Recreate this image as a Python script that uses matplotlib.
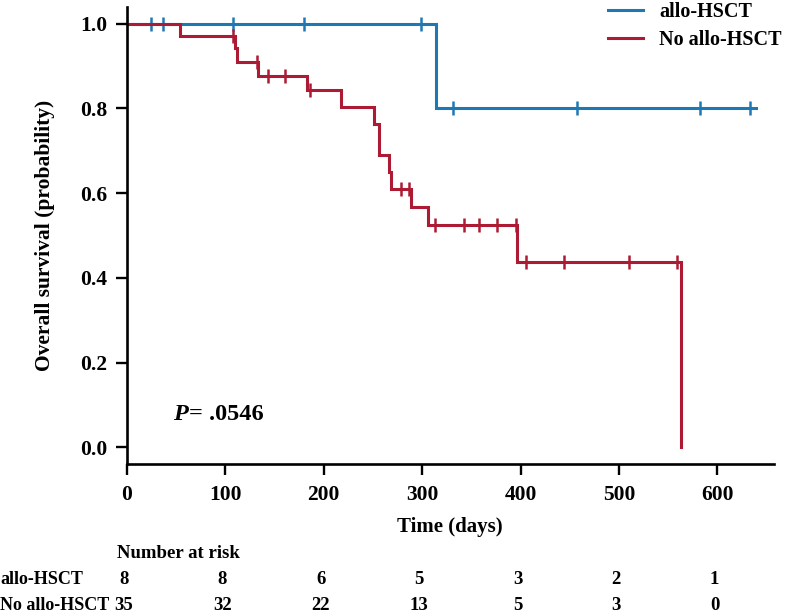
import numpy as np
import matplotlib
matplotlib.use("Agg")
import matplotlib.pyplot as plt
from matplotlib.transforms import blended_transform_factory

# Kaplan-Meier steps
groups = ["allo-HSCT", "No allo-HSCT"]
colors = ["#1f78b4", "#ad1a33"]

hsct_event_t = [314.6]
hsct_surv = [0.80]
hsct_end = 638.8
hsct_censor = [24.6, 36.4, 107.5, 180, 298.5, 330.9, 457.4, 582.7, 632.7]

no_event_t = [54.6, 110, 112, 133.5, 183.5, 217.5, 251.3, 256.4, 265.9, 268,
              288.5, 305.5, 396.8, 562.6]
no_surv = [0.970, 0.943, 0.909, 0.876, 0.843, 0.803, 0.763, 0.689, 0.649, 0.611,
           0.567, 0.524, 0.437, 0.0]
no_end = 562.6
no_censor = [108, 132, 143.7, 160.6, 186, 279, 287, 312.9, 342.3, 357.6, 376.2,
             395.8, 406, 443.9, 510.2, 558.9]

risk_times = [0, 100, 200, 300, 400, 500, 600]
risk_hsct = [8, 8, 6, 5, 3, 2, 1]
risk_no = [35, 32, 22, 13, 5, 3, 0]

plt.rcParams['font.family'] = ['Liberation Serif', 'DejaVu Serif']
plt.rcParams['font.weight'] = 'bold'

fig = plt.figure(figsize=(7.87, 6.15), dpi=100)
ax = fig.add_axes([0.161, 0.245, 0.822, 0.744])


def km_plot(ev_t, surv, end, cens, color, label):
    t = [0] + list(ev_t)
    s = [1.0] + list(surv)
    if end > t[-1]:
        t.append(end)
        s.append(s[-1])
    ax.step(t, s, where='post', color=color, lw=2.2, label=label, solid_joinstyle='miter')
    t = np.array(t)
    s = np.array(s)
    cy = s[np.searchsorted(t, cens, side='right') - 1]
    ax.plot(cens, cy, ls='none', marker='|', ms=10.5, mew=1.8, color=color)


km_plot(hsct_event_t, hsct_surv, hsct_end, hsct_censor, colors[0], groups[0])
km_plot(no_event_t, no_surv, no_end, no_censor, colors[1], groups[1])

ax.set_xlim(0, 657)
ax.set_ylim(-0.04, 1.04)
ax.set_xticks(risk_times)
ax.set_yticks([0.0, 0.2, 0.4, 0.6, 0.8, 1.0])
ax.set_yticklabels(["0.0", "0.2", "0.4", "0.6", "0.8", "1.0"])
for sp in ["top", "right"]:
    ax.spines[sp].set_visible(False)
for sp in ["left", "bottom"]:
    ax.spines[sp].set_linewidth(1.9)
ax.tick_params(width=1.7, length=8, labelsize=15.5, direction='out')
ax.tick_params(axis='y', pad=6)
ax.tick_params(axis='x', pad=7)

ax.set_ylabel("Overall survival (probability)", fontsize=15.5, fontweight='bold')
ax.yaxis.set_label_coords(-0.111, 0.5)
ax.set_xlabel("Time (days)", fontsize=15, fontweight='bold')
ax.xaxis.label.set_va('center')
ax.xaxis.set_label_coords(0.5, -0.136)

ax.text(47, 0.078, "P", fontsize=17.5, fontweight='bold', style='italic', va='center')
ax.text(63.5, 0.078, "= .0546", fontsize=17.5, fontweight='bold', va='center')

ax.legend(loc='upper left', bbox_to_anchor=(0.772, 1 - 2 / 615), bbox_transform=fig.transFigure,
          frameon=False, fontsize=14.5, handlelength=1.75, handletextpad=0.8,
          labelspacing=0.4, borderpad=0, borderaxespad=0)

# number at risk table
tr = blended_transform_factory(ax.transData, fig.transFigure)
fig.text(117 / 787, 1 - 553 / 615, "Number at risk", fontsize=13.5, fontweight='bold', va='center')
fig.text(0.0, 1 - 580 / 615, groups[0], fontsize=13, fontweight='bold', va='center')
fig.text(0.0, 1 - 605 / 615, groups[1], fontsize=13, fontweight='bold', va='center')
for x, a, b in zip(risk_times, risk_hsct, risk_no):
    ax.text(x - 3, 1 - 580 / 615, str(a), transform=tr, fontsize=13.5, fontweight='bold',
            ha='center', va='center', clip_on=False)
    ax.text(x - 3, 1 - 605 / 615, str(b), transform=tr, fontsize=13.5, fontweight='bold',
            ha='center', va='center', clip_on=False)

fig.savefig("out.png", dpi=100)
